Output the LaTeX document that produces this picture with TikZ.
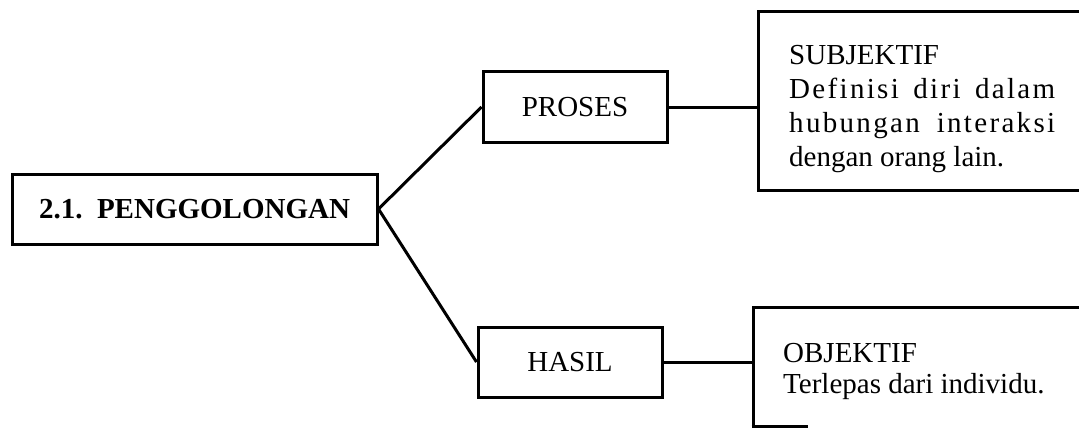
\documentclass[tikz,border=0pt]{standalone}
\usepackage{fontspec}
\setmainfont{Liberation Serif}
\newfontfamily\spacedfont[LetterSpace=8]{Liberation Serif}
\usepackage{tikz}
\usetikzlibrary{calc}

\begin{document}
\begin{tikzpicture}[x=1pt, y=-1pt,
		box/.style={draw, line width=3pt, inner sep=0pt},
		boxtext/.style={inner sep=0pt, anchor=base west, font=\fontsize{29}{34}\selectfont},
		link/.style={line width=3pt}]
		%%%%% START %%%%%
		\useasboundingbox (0, 0) rectangle (1079, 428);
		
		\node[box, minimum width=365pt, minimum height=70pt, font=\bfseries\fontsize{29}{34}\selectfont] (gol) at (194.5, 209) {2.1.\ \ PENGGOLONGAN\hspace{10pt}};
		
		\node[box, minimum width=184pt, minimum height=70pt, font=\fontsize{29}{34}\selectfont] (proses) at (575, 107) {PROSES};
		\node[box, minimum width=184pt, minimum height=70pt, font=\fontsize{29}{34}\selectfont] (hasil) at (570, 362) {HASIL};
		
		% right boxes run past the edge of the page
		\node[box, minimum width=342pt, minimum height=178pt] (subj) at (929, 101) {};
		\node[boxtext] (subjtxt) at (789, 65) {\begin{tabular}[t]{@{}l@{}}SUBJEKTIF\\
				\makebox[266pt][s]{\spacedfont Definisi diri dalam}\\
				\makebox[266pt][s]{\spacedfont hubungan interaksi}\\
				dengan orang lain.\end{tabular}};
		
		\node[box, minimum width=347pt, minimum height=133pt] (obj) at (926.5, 373.5) {};
		\node[boxtext, font=\fontsize{29}{31}\selectfont] (objtxt) at (783, 362) {\begin{tabular}[t]{@{}l@{}}OBJEKTIF\\
				Terlepas dari individu.\end{tabular}};
		\coordinate (objcut) at (808, 426.5);
		\draw[link] (obj.west |- objcut) -- (objcut);
		
		\draw[link] (gol.east) -- (proses.west);
		\draw[link] (gol.east) -- (hasil.west);
		\draw[link] (proses.east) -- (proses.east -| subj.west);
		\draw[link] (hasil.east) -- (hasil.east -| obj.west);
		
		%%%%% END %%%%%
\end{tikzpicture}
\end{document}
